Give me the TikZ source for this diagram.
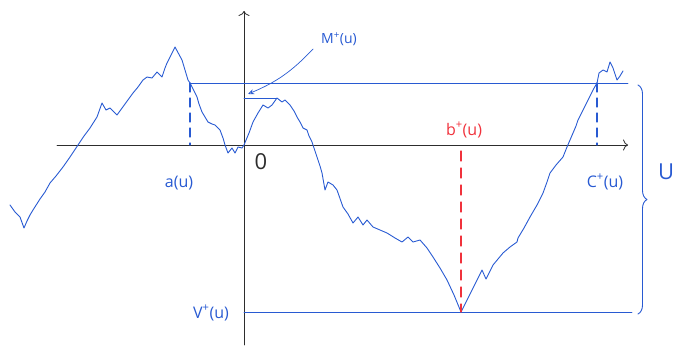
\documentclass[tikz,border=0pt]{standalone}
\usepackage{fontspec}
\setmainfont{Open Sans}
\usetikzlibrary{positioning,arrows.meta,decorations.pathreplacing}
\definecolor{inkblue}{RGB}{40,90,210}
\definecolor{inkred}{RGB}{240,50,60}
\definecolor{axisgray}{RGB}{45,45,45}

\begin{document}
\begin{tikzpicture}[x=1pt,y=-1pt,line join=round,line cap=round,
  walk/.style={inkblue,line width=0.9pt},
  guide/.style={inkblue,line width=0.8pt},
  drop/.style={draw=inkblue,line width=1.1pt,dash pattern=on 9pt off 6pt},
  lbl/.style={inkblue,font=\fontsize{16}{18}\selectfont,inner sep=1pt}]
  \useasboundingbox (0,0) rectangle (676,345);
  % axes
  \coordinate (O) at (244,145);
  \coordinate (xl) at (57,145);  \coordinate (xr) at (628,145);
  \coordinate (yb) at (244,345); \coordinate (yt) at (244,11);
  \draw[axisgray,line width=0.8pt,-{To[length=5pt,width=11pt]}] (xl)--(xr);
  \draw[axisgray,line width=0.8pt,-{To[length=5pt,width=11pt]}] (yb)--(yt);
  \node[axisgray,font=\fontsize{22}{24}\selectfont] (zero) at (261,162) {0};
  % path points
  \coordinate (A) at (190,83);  \coordinate (Aax) at (190,145);
  \coordinate (C) at (597,83);  \coordinate (Cax) at (597,145);
  \coordinate (M) at (277,98);  \coordinate (My) at (244,98);
  \coordinate (V) at (461,312); \coordinate (Vy) at (244,312);
  \coordinate (Vr) at (632,312); \coordinate (Ur) at (628,83);
  \coordinate (Bax) at (461,151);
  % the random walk
  \draw[walk] plot coordinates {(10,205) (15,212) (20,217) (24,228) (27,221) (30,215)
    (33,210) (40,199) (45,192) (50,183) (56,176) (63,167) (70,157) (78,145) (84,136)
    (90,128) (97,117) (102,103) (106,110) (110,108) (114,112) (117,115) (125,104)
    (133,93) (138,87) (143,80) (147,77) (152,78) (157,72) (162,77) (165,68) (167,63)
    (171,55) (175,47) (182,60) (188,80) (A) (197,97) (199,104) (202,112) (205,117)
    (208,122) (212,124) (215,125) (220,130) (223,138) (225,145) (228,153) (232,148)
    (235,153) (238,147) (242,148) (O) (249,133) (253,122) (258,113) (263,105) (268,108)
    (272,105) (M) (282,102) (285,100) (290,105) (294,111) (297,117) (300,122) (303,128)
    (307,130) (309,136) (312,142) (317,157) (320,166) (322,173) (325,190) (328,182)
    (333,185) (337,190) (343,207) (348,214) (353,223) (358,217) (363,225) (367,220)
    (373,227) (380,230) (387,233) (395,238) (402,242) (408,237) (413,242) (420,240)
    (427,248) (433,257) (440,268) (447,280) (454,295) (V) (467,300) (472,290) (477,280)
    (482,270) (486,279) (493,265) (498,259) (503,253) (510,247) (517,242) (518,238)
    (524,228) (530,217) (537,205) (543,193) (547,182) (550,173) (556,165) (563,157)
    (567,147) (573,133) (576,126) (578,120) (583,110) (588,100) (593,90) (C) (599,73)
    (603,70) (607,72) (610,62) (613,68) (617,80) (620,76) (623,71)};
  % levels and drops
  \draw[guide] (A)--(Ur);
  \draw[guide] (My)--(M);
  \draw[guide] (Vy)--(Vr);
  \draw[drop] (A)--(Aax);
  \draw[drop] (C)--(Cax);
  \draw[draw=inkred,line width=1.2pt,dash pattern=on 10pt off 7pt] (Bax)--(V);
  % labels
  \node[lbl] (a) at (179,183) {a(u)};
  \node[lbl] (c) at (605,182) {C\textsuperscript{+}(u)};
  \node[lbl,inkred] (b) at (464,130) {b\textsuperscript{+}(u)};
  \node[lbl] (v) at (211,313) {V\textsuperscript{+}(u)};
  \node[lbl,anchor=west,font=\fontsize{14}{16}\selectfont] (m) at (320,39) {M\textsuperscript{+}(u)};
  \draw[inkblue,line width=0.7pt,-{Stealth[open,length=6pt,width=5pt]}]
    (m.west) ++(-7,10) coordinate (mt) (mt) to[bend left=12] ([shift={(4,-4)}]My);
  % the range U
  \coordinate (Ut) at (638,85); \coordinate (Ub) at (638,314);
  \draw[inkblue,line width=0.9pt,decorate,decoration={brace,amplitude=9pt}] (Ut)--(Ub);
  \node[lbl,font=\fontsize{22}{24}\selectfont] (U) at (666,172) {U};
\end{tikzpicture}
\end{document}
